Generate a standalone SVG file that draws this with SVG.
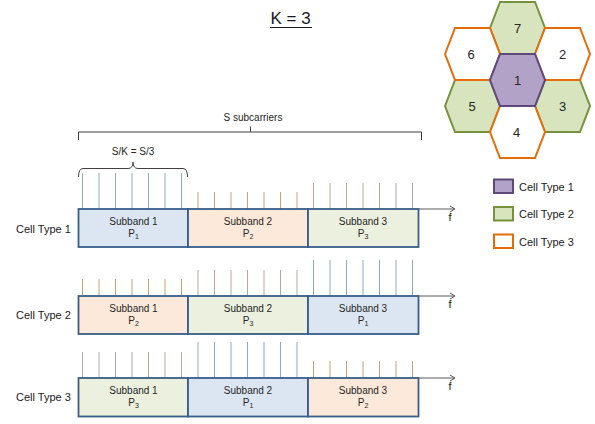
<svg xmlns="http://www.w3.org/2000/svg" width="595" height="424" viewBox="0 0 595 424">
  <style>
    text { font-family: "Liberation Sans", Arial, sans-serif; fill: #1a1a1a; }
    .title { font-size: 17px; }
    .hexnum { font-size: 13px; text-anchor: middle; fill: #262626; }
    .lbl { font-size: 11px; }
    .sb { font-size: 10px; text-anchor: middle; fill: #262626; }
    .sub { font-size: 7px; }
    .brace { fill: none; stroke: #404040; stroke-width: 1; }
    .hex-w { fill: #ffffff; stroke: #e46c0a; stroke-width: 2; }
    .hex-g { fill: #d7e4bd; stroke: #76923c; stroke-width: 2; }
    .hex-p { fill: #b3a2c7; stroke: #5f497a; stroke-width: 2; }
    .box { stroke: #385d8a; stroke-width: 1.8; }
    .f1 { fill: #dce6f2; }
    .f2 { fill: #fde9d9; }
    .f3 { fill: #ebf1de; }
    .s1 { stroke: #8ea9c8; stroke-width: 1; }
    .s2 { stroke: #c9a07a; stroke-width: 1; }
    .s3 { stroke: #b3ab95; stroke-width: 1; }
    .axis { fill: none; stroke: #595959; stroke-width: 1; }
  </style>
  <defs>
    <polygon id="hex" points="-27.5,0 -17.5,-26 17.5,-26 27.5,0 17.5,26 -17.5,26"/>
    <!-- spike combs: 7 lines at 16.5 spacing, heights per power level -->
    <g id="comb1" class="s1">
      <path d="M0,0V-36M16.5,0V-36M33,0V-36M49.5,0V-36M66,0V-36M82.5,0V-36M99,0V-36"/>
    </g>
    <g id="comb2" class="s2">
      <path d="M0,0V-17M16.5,0V-17M33,0V-17M49.5,0V-17M66,0V-17M82.5,0V-17M99,0V-17"/>
    </g>
    <g id="comb3" class="s3">
      <path d="M0,0V-26M16.5,0V-26M33,0V-26M49.5,0V-26M66,0V-26M82.5,0V-26M99,0V-26"/>
    </g>
  </defs>

  <rect width="595" height="424" fill="#ffffff"/>

  <!-- title -->
  <g id="title">
    <text class="title" x="270.5" y="24">K = 3</text>
    <line x1="270" y1="27.5" x2="312" y2="27.5" stroke="#1a1a1a" stroke-width="1.2"/>
  </g>

  <!-- hexagonal cell cluster -->
  <g id="cells">
    <g id="cell7"><use href="#hex" class="hex-g" x="517.5" y="28"/><text class="hexnum" x="517.5" y="32.5">7</text></g>
    <g id="cell5"><use href="#hex" class="hex-g" x="472.5" y="106"/><text class="hexnum" x="472" y="110.5">5</text></g>
    <g id="cell3"><use href="#hex" class="hex-g" x="562.5" y="106"/><text class="hexnum" x="562.5" y="110.5">3</text></g>
    <g id="cell6"><use href="#hex" class="hex-w" x="472.5" y="54"/><text class="hexnum" x="471" y="58.5">6</text></g>
    <g id="cell2"><use href="#hex" class="hex-w" x="562.5" y="54"/><text class="hexnum" x="562.5" y="58.5">2</text></g>
    <g id="cell4"><use href="#hex" class="hex-w" x="517.5" y="132"/><text class="hexnum" x="516.5" y="136.5">4</text></g>
    <g id="cell1"><use href="#hex" class="hex-p" x="517.5" y="80"/><text class="hexnum" x="517.5" y="84.5">1</text></g>
  </g>

  <!-- legend -->
  <g id="legend">
    <rect x="494" y="179.5" width="19" height="13.5" class="hex-p"/>
    <text class="lbl" x="519" y="190.5">Cell Type 1</text>
    <rect x="494" y="207" width="19" height="13.5" class="hex-g"/>
    <text class="lbl" x="519" y="218">Cell Type 2</text>
    <rect x="494" y="234.5" width="19" height="13.5" class="hex-w"/>
    <text class="lbl" x="519" y="245.5">Cell Type 3</text>
  </g>

  <!-- bandwidth braces -->
  <g id="braces">
    <text class="sb" x="253" y="120.5">S subcarriers</text>
    <path class="brace" d="M78.5,140V132H421.5V140M250.5,132V126.5"/>
    <text class="sb" x="133" y="155">S/K = S/3</text>
    <path class="brace" d="M78.5,177Q78.5,168.5 83,168.5H128Q133,168.5 133,162Q133,168.5 138,168.5H183Q187.5,168.5 187.5,177"/>
  </g>

  <!-- Cell Type 1 row -->
  <g id="row1">
    <text class="lbl" x="16" y="233">Cell Type 1</text>
    <use href="#comb1" x="82.5" y="209"/>
    <use href="#comb2" x="198" y="209"/>
    <use href="#comb3" x="313.5" y="209"/>
    <rect class="box f1" x="78.5" y="209" width="109.5" height="38"/>
    <rect class="box f2" x="188" y="209" width="120" height="38"/>
    <rect class="box f3" x="308" y="209" width="110.5" height="38"/>
    <text class="sb" x="133.5" y="225">Subband 1</text>
    <text class="sb" x="133.5" y="237">P<tspan class="sub" dy="2">1</tspan></text>
    <text class="sb" x="248" y="225">Subband 2</text>
    <text class="sb" x="248" y="237">P<tspan class="sub" dy="2">2</tspan></text>
    <text class="sb" x="363" y="225">Subband 3</text>
    <text class="sb" x="363" y="237">P<tspan class="sub" dy="2">3</tspan></text>
    <path class="axis" d="M418.5,209H455M450,206L455,209L450,212"/>
    <text class="lbl" x="448.5" y="221" font-size="10">f</text>
  </g>

  <!-- Cell Type 2 row -->
  <g id="row2">
    <text class="lbl" x="16" y="319">Cell Type 2</text>
    <use href="#comb2" x="82.5" y="296"/>
    <use href="#comb3" x="198" y="296"/>
    <use href="#comb1" x="313.5" y="296"/>
    <rect class="box f2" x="78.5" y="296" width="109.5" height="38"/>
    <rect class="box f3" x="188" y="296" width="120" height="38"/>
    <rect class="box f1" x="308" y="296" width="110.5" height="38"/>
    <text class="sb" x="133.5" y="312">Subband 1</text>
    <text class="sb" x="133.5" y="324">P<tspan class="sub" dy="2">2</tspan></text>
    <text class="sb" x="248" y="312">Subband 2</text>
    <text class="sb" x="248" y="324">P<tspan class="sub" dy="2">3</tspan></text>
    <text class="sb" x="363" y="312">Subband 3</text>
    <text class="sb" x="363" y="324">P<tspan class="sub" dy="2">1</tspan></text>
    <path class="axis" d="M418.5,296H455M450,293L455,296L450,299"/>
    <text class="lbl" x="448.5" y="308" font-size="10">f</text>
  </g>

  <!-- Cell Type 3 row -->
  <g id="row3">
    <text class="lbl" x="16" y="401">Cell Type 3</text>
    <use href="#comb3" x="82.5" y="378"/>
    <use href="#comb1" x="198" y="378"/>
    <use href="#comb2" x="313.5" y="378"/>
    <rect class="box f3" x="78.5" y="378" width="109.5" height="38.5"/>
    <rect class="box f1" x="188" y="378" width="120" height="38.5"/>
    <rect class="box f2" x="308" y="378" width="110.5" height="38.5"/>
    <text class="sb" x="133.5" y="394">Subband 1</text>
    <text class="sb" x="133.5" y="406">P<tspan class="sub" dy="2">3</tspan></text>
    <text class="sb" x="248" y="394">Subband 2</text>
    <text class="sb" x="248" y="406">P<tspan class="sub" dy="2">1</tspan></text>
    <text class="sb" x="363" y="394">Subband 3</text>
    <text class="sb" x="363" y="406">P<tspan class="sub" dy="2">2</tspan></text>
    <path class="axis" d="M418.5,378H455M450,375L455,378L450,381"/>
    <text class="lbl" x="448.5" y="390" font-size="10">f</text>
  </g>
</svg>
